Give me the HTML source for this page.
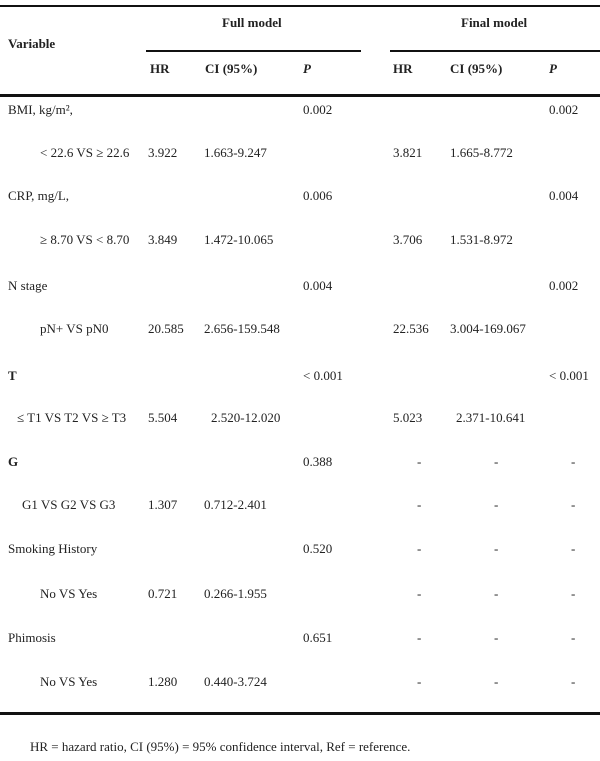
<!DOCTYPE html>
<html><head><style>
body{margin:0;width:600px;height:761px;background:#fff;position:relative;font-family:"Liberation Serif",serif;font-size:13px;color:#222;overflow:hidden}
.t{position:absolute;white-space:nowrap;line-height:16px}
.b{font-weight:bold}
.l{position:absolute;background:#111}
</style></head><body>
<div class="l" style="left:0;top:5px;width:600px;height:2px"></div>
<div class="t b" style="left:8px;top:36px">Variable</div>
<div class="t b" style="left:222px;top:15px">Full model</div>
<div class="t b" style="left:461px;top:15px">Final model</div>
<div class="l" style="left:146px;top:50px;width:215px;height:2px"></div>
<div class="l" style="left:390px;top:50px;width:210px;height:2px"></div>
<div class="t b" style="left:150px;top:61px">HR</div>
<div class="t b" style="left:205px;top:61px">CI (95%)</div>
<div class="t b" style="left:303px;top:61px"><i>P</i></div>
<div class="t b" style="left:393px;top:61px">HR</div>
<div class="t b" style="left:450px;top:61px">CI (95%)</div>
<div class="t b" style="left:549px;top:61px"><i>P</i></div>
<div class="l" style="left:0;top:94px;width:600px;height:3px"></div>

<div class="t" style="left:8px;top:102px">BMI, kg/m², </div>
<div class="t" style="left:303px;top:102px">0.002</div>
<div class="t" style="left:549px;top:102px">0.002</div>

<div class="t" style="left:40px;top:145px">&lt; 22.6 VS ≥ 22.6</div>
<div class="t" style="left:148px;top:145px">3.922</div>
<div class="t" style="left:204px;top:145px">1.663-9.247</div>
<div class="t" style="left:393px;top:145px">3.821</div>
<div class="t" style="left:450px;top:145px">1.665-8.772</div>

<div class="t" style="left:8px;top:188px">CRP, mg/L, </div>
<div class="t" style="left:303px;top:188px">0.006</div>
<div class="t" style="left:549px;top:188px">0.004</div>

<div class="t" style="left:40px;top:232px">≥ 8.70 VS &lt; 8.70</div>
<div class="t" style="left:148px;top:232px">3.849</div>
<div class="t" style="left:204px;top:232px">1.472-10.065</div>
<div class="t" style="left:393px;top:232px">3.706</div>
<div class="t" style="left:450px;top:232px">1.531-8.972</div>

<div class="t" style="left:8px;top:278px">N stage</div>
<div class="t" style="left:303px;top:278px">0.004</div>
<div class="t" style="left:549px;top:278px">0.002</div>

<div class="t" style="left:40px;top:321px">pN+ VS pN0</div>
<div class="t" style="left:148px;top:321px">20.585</div>
<div class="t" style="left:204px;top:321px">2.656-159.548</div>
<div class="t" style="left:393px;top:321px">22.536</div>
<div class="t" style="left:450px;top:321px">3.004-169.067</div>

<div class="t b" style="left:8px;top:368px">T</div>
<div class="t" style="left:303px;top:368px">&lt; 0.001</div>
<div class="t" style="left:549px;top:368px">&lt; 0.001</div>

<div class="t" style="left:17px;top:410px">≤ T1 VS T2 VS ≥ T3</div>
<div class="t" style="left:148px;top:410px">5.504</div>
<div class="t" style="left:211px;top:410px">2.520-12.020</div>
<div class="t" style="left:393px;top:410px">5.023</div>
<div class="t" style="left:456px;top:410px">2.371-10.641</div>

<div class="t b" style="left:8px;top:454px">G</div>
<div class="t" style="left:303px;top:454px">0.388</div>
<div class="t" style="left:417px;top:454px">-</div>
<div class="t" style="left:494px;top:454px">-</div>
<div class="t" style="left:571px;top:454px">-</div>

<div class="t" style="left:22px;top:497px">G1 VS G2 VS G3</div>
<div class="t" style="left:148px;top:497px">1.307</div>
<div class="t" style="left:204px;top:497px">0.712-2.401</div>
<div class="t" style="left:417px;top:497px">-</div>
<div class="t" style="left:494px;top:497px">-</div>
<div class="t" style="left:571px;top:497px">-</div>

<div class="t" style="left:8px;top:541px">Smoking History</div>
<div class="t" style="left:303px;top:541px">0.520</div>
<div class="t" style="left:417px;top:541px">-</div>
<div class="t" style="left:494px;top:541px">-</div>
<div class="t" style="left:571px;top:541px">-</div>

<div class="t" style="left:40px;top:586px">No VS Yes</div>
<div class="t" style="left:148px;top:586px">0.721</div>
<div class="t" style="left:204px;top:586px">0.266-1.955</div>
<div class="t" style="left:417px;top:586px">-</div>
<div class="t" style="left:494px;top:586px">-</div>
<div class="t" style="left:571px;top:586px">-</div>

<div class="t" style="left:8px;top:630px">Phimosis</div>
<div class="t" style="left:303px;top:630px">0.651</div>
<div class="t" style="left:417px;top:630px">-</div>
<div class="t" style="left:494px;top:630px">-</div>
<div class="t" style="left:571px;top:630px">-</div>

<div class="t" style="left:40px;top:674px">No VS Yes</div>
<div class="t" style="left:148px;top:674px">1.280</div>
<div class="t" style="left:204px;top:674px">0.440-3.724</div>
<div class="t" style="left:417px;top:674px">-</div>
<div class="t" style="left:494px;top:674px">-</div>
<div class="t" style="left:571px;top:674px">-</div>

<div class="l" style="left:0;top:712px;width:600px;height:3px"></div>
<div class="t" style="left:30px;top:739px">HR = hazard ratio, CI (95%) = 95% confidence interval, Ref = reference.</div>
</body></html>
